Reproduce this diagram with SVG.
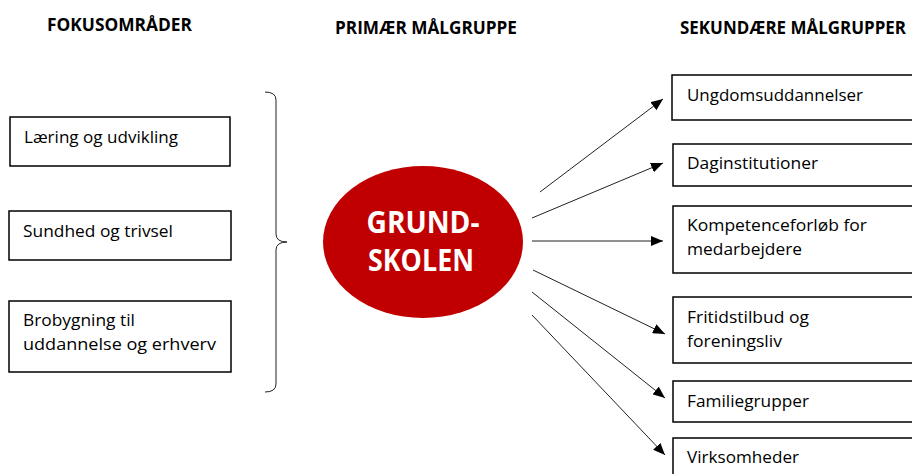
<svg xmlns="http://www.w3.org/2000/svg" width="912" height="474" viewBox="0 0 912 474">
<defs>
<style>
.box{fill:#fff;stroke:#000;stroke-width:1.5}
.t{font-family:"Open Sans","Liberation Sans",Arial,sans-serif;font-size:17px;fill:#000}
.h{font-family:"Open Sans","Liberation Sans",Arial,sans-serif;font-size:17px;font-weight:bold;fill:#000}
.c{font-family:"Open Sans","Liberation Sans",sans-serif;font-size:30px;font-weight:bold;fill:#fff}
.ln{stroke:#222;stroke-width:1;fill:none}
</style>
<marker id="ah" viewBox="0 0 12 10" refX="12" refY="5" markerWidth="12" markerHeight="10" markerUnits="userSpaceOnUse" orient="auto">
<path d="M0,0 L12,5 L0,10 Z" fill="#000"/>
</marker>
</defs>
<rect width="912" height="474" fill="#fff"/>
<g id="headings">
<text class="h" x="47" y="31" textLength="145" lengthAdjust="spacingAndGlyphs">FOKUSOMRÅDER</text>
<text class="h" x="335" y="34" textLength="182" lengthAdjust="spacingAndGlyphs">PRIMÆR MÅLGRUPPE</text>
<text class="h" x="680" y="34" textLength="226" lengthAdjust="spacingAndGlyphs">SEKUNDÆRE MÅLGRUPPER</text>
</g>
<g id="focus1"><rect class="box" x="10" y="117" width="220" height="49"/><text class="t" x="24" y="143" textLength="154" lengthAdjust="spacingAndGlyphs">Læring og udvikling</text></g>
<g id="focus2"><rect class="box" x="9" y="211" width="222" height="49"/><text class="t" x="23" y="237" textLength="150" lengthAdjust="spacingAndGlyphs">Sundhed og trivsel</text></g>
<g id="focus3"><rect class="box" x="9" y="301" width="222" height="71"/><text class="t" x="23" y="326" textLength="112" lengthAdjust="spacingAndGlyphs">Brobygning til</text><text class="t" x="23" y="350" textLength="193" lengthAdjust="spacingAndGlyphs">uddannelse og erhverv</text></g>
<g id="brace"><path class="ln" stroke="#444" d="M265,92 Q276,92 276,100 L276,234 Q276,242 287,242 Q276,242 276,250 L276,384 Q276,392 265,392"/></g>
<g id="center"><ellipse cx="423" cy="242" rx="100" ry="76" fill="#C00000"/><text class="c" x="423" y="233" text-anchor="middle" textLength="113" lengthAdjust="spacingAndGlyphs">GRUND-</text><text class="c" x="421" y="271" text-anchor="middle" textLength="106" lengthAdjust="spacingAndGlyphs">SKOLEN</text></g>
<g id="connectors">
<line class="ln" x1="540" y1="192" x2="663" y2="99" marker-end="url(#ah)"/>
<line class="ln" x1="532" y1="218" x2="663" y2="163" marker-end="url(#ah)"/>
<line class="ln" x1="532" y1="241" x2="663" y2="241" marker-end="url(#ah)"/>
<line class="ln" x1="533" y1="270" x2="665" y2="334" marker-end="url(#ah)"/>
<line class="ln" x1="532" y1="292" x2="665" y2="398" marker-end="url(#ah)"/>
<line class="ln" x1="532" y1="315" x2="665" y2="455" marker-end="url(#ah)"/>
</g>
<g id="sec1"><rect class="box" x="672" y="75" width="250" height="45"/><text class="t" x="687" y="101" textLength="176" lengthAdjust="spacingAndGlyphs">Ungdomsuddannelser</text></g>
<g id="sec2"><rect class="box" x="673" y="144" width="250" height="42"/><text class="t" x="687" y="169" textLength="131" lengthAdjust="spacingAndGlyphs">Daginstitutioner</text></g>
<g id="sec3"><rect class="box" x="673" y="206" width="250" height="67"/><text class="t" x="687" y="231" textLength="180" lengthAdjust="spacingAndGlyphs">Kompetenceforløb for</text><text class="t" x="687" y="255" textLength="115" lengthAdjust="spacingAndGlyphs">medarbejdere</text></g>
<g id="sec4"><rect class="box" x="673" y="297" width="250" height="66"/><text class="t" x="687" y="323" textLength="122" lengthAdjust="spacingAndGlyphs">Fritidstilbud og</text><text class="t" x="687" y="347" textLength="95" lengthAdjust="spacingAndGlyphs">foreningsliv</text></g>
<g id="sec5"><rect class="box" x="673" y="381" width="250" height="41"/><text class="t" x="687" y="407" textLength="122" lengthAdjust="spacingAndGlyphs">Familiegrupper</text></g>
<g id="sec6"><rect class="box" x="673" y="438" width="250" height="50"/><text class="t" x="687" y="463" textLength="112" lengthAdjust="spacingAndGlyphs">Virksomheder</text></g>
</svg>
